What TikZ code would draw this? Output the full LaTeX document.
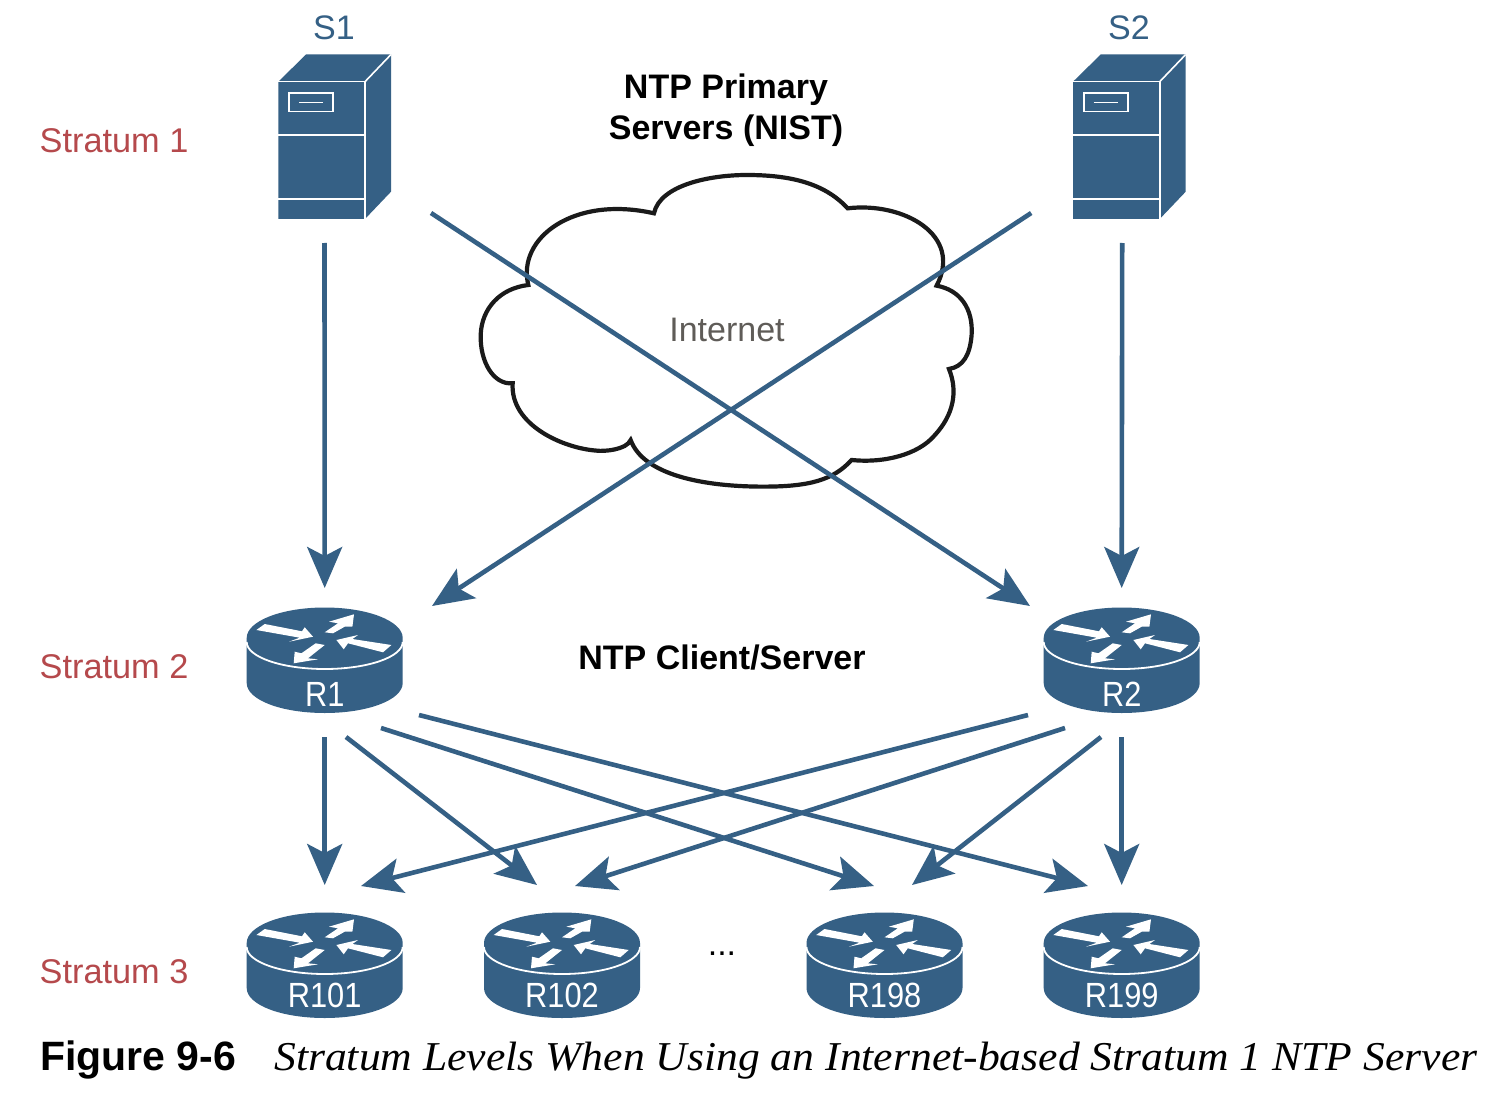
\documentclass[tikz,border=0pt]{standalone}
\usepackage{fontspec}
\setmainfont{Liberation Sans}
\newfontfamily\capserif{Liberation Serif}
\usetikzlibrary{arrows.meta}
\definecolor{devblue}{HTML}{356085}
\definecolor{stratumred}{HTML}{B5494C}
\definecolor{netgray}{HTML}{5F5C58}
\definecolor{cloudline}{HTML}{1A1A1A}
\tikzset{
  x=1pt,y=-1pt,
  link/.style={draw=devblue,line width=4.6pt,-{Stealth[length=41pt,width=35pt,inset=9pt]}},
  stratumlabel/.style={text=stratumred,font=\fontsize{34.3}{40}\selectfont,inner sep=0pt,anchor=west},
  devlabel/.style={text=devblue,font=\fontsize{34}{40}\selectfont,inner sep=0pt},
  headlabel/.style={text=black,font=\bfseries\fontsize{34}{41}\selectfont,inner sep=0pt,align=center},
  routerbox/.style={minimum width=156pt,minimum height=104pt,inner sep=0pt},
  serverbox/.style={minimum width=113pt,minimum height=165pt,inner sep=0pt},
  routerlabel/.style={text=white,font=\fontsize{35}{40}\selectfont,inner sep=0pt},
  routershape/.pic={
    \fill[devblue] (-78,-22) .. controls (-78,-39) and (-43,-52.5) .. (0,-52.5)
      .. controls (43,-52.5) and (78,-39) .. (78,-22) -- (78,23)
      .. controls (78,40) and (43,53) .. (0,53)
      .. controls (-43,53) and (-78,40) .. (-78,23) -- cycle;
    \draw[white,line width=1.8pt] (-78,-18) .. controls (-78,-3) and (-43,9) .. (0,9)
      .. controls (43,9) and (78,-3) .. (78,-18);
    \fill[white] (-68.3,-30) -- (-60,-36) -- (-22.7,-28.7) -- (-20,-32.7) -- (-11.7,-23.3) -- (-35.7,-18.3) -- (-25,-22.3) -- cycle;
    \fill[white] (29.3,-45.7) -- (4.3,-38.3) -- (13.3,-36.7) -- (0,-27.7) -- (8.3,-26.7) -- (20,-33.3) -- (27.7,-33.3) -- cycle;
    \fill[white] (11.7,-20) -- (33.3,-25) -- (27.7,-21) -- (66.7,-15) -- (58.3,-7.7) -- (23.3,-16.7) -- (19,-10.7) -- cycle;
    \fill[white] (-31,3.3) -- (-30,-8.3) -- (-23.3,-6.7) -- (-9,-16.7) -- (0,-15) -- (-16.7,-1.7) -- (-6.7,-0.7) -- cycle;
  },
  servershape/.pic={
    \fill[devblue] (-56.7,-55.3) -- (-29,-82.5) -- (56,-82.5) -- (56,54.7) -- (30,82) -- (-56.7,82) -- cycle;
    \draw[white,line width=1.6pt] (-56.7,-55.3) -- (30,-55.3) -- (30,82);
    \draw[white,line width=1.6pt] (30,-55.3) -- (56,-82.5);
    \draw[white,line width=1.6pt] (-56.7,-2) -- (30,-2);
    \draw[white,line width=1.6pt] (-56.7,62) -- (30,62);
    \draw[white,line width=1.6pt] (-46,-43.7) rectangle (-2,-25.3);
    \draw[white,line width=1.6pt] (-36,-34.3) -- (-11.7,-34.3);
  }
}
\newcommand{\routerdev}[5]{%
  \node[routerbox] (#1) at (#2,#3) {};
  \pic at (#1.center) {routershape};
  \node[routerlabel] (#1-name) at ([yshift=-#5pt]#1.center) {\scalebox{.88}[1]{#4}};
}
\newcommand{\serverdev}[3]{%
  \node[serverbox] (#1) at (#2,#3) {};
  \pic at (#1.center) {servershape};
}
\begin{document}
\begin{tikzpicture}
\path[use as bounding box,fill=white] (0,0) rectangle (1510,1094);

% cloud
\begin{scope}[shift={(470,165)},x=0.3333pt,y=-0.3333pt]
\draw[draw=cloudline,fill=white,line width=4.2pt,line join=miter]
  (552,145) .. controls (570,60) and (720,30) .. (830,30)
  .. controls (950,30) and (1060,50) .. (1133,130)
  .. controls (1300,110) and (1480,210) .. (1400,362)
  .. controls (1470,375) and (1510,430) .. (1505,510)
  .. controls (1500,570) and (1480,605) .. (1437,612)
  .. controls (1465,680) and (1450,750) .. (1395,810)
  .. controls (1345,870) and (1240,895) .. (1145,885)
  .. controls (1090,945) and (1020,965) .. (880,965)
  .. controls (700,965) and (520,930) .. (482,825)
  .. controls (470,855) and (400,860) .. (380,857)
  .. controls (280,850) and (120,780) .. (128,655)
  .. controls (70,660) and (30,590) .. (32,510)
  .. controls (35,430) and (90,370) .. (175,360)
  .. controls (140,220) and (310,90) .. (552,145) -- cycle;
\end{scope}
\node[text=netgray,font=\fontsize{34}{40}\selectfont,inner sep=0pt] (internet) at (727,330) {Internet};

% devices
\serverdev{s1}{335}{137}
\serverdev{s2}{1129.7}{137}
\routerdev{r1}{324.7}{660}{R1}{34}
\routerdev{r2}{1121.7}{660}{R2}{34}
\routerdev{r101}{324.7}{965}{R101}{30}
\routerdev{r102}{562}{965}{R102}{30}
\routerdev{r198}{884.5}{965}{R198}{30}
\routerdev{r199}{1121.7}{965}{R199}{30}

% labels
\node[devlabel] (s1-name) at (334,28) {S1};
\node[devlabel] (s2-name) at (1129,28) {S2};
\node[headlabel] (primary) at (726,110) {NTP Primary\\Servers (NIST)};
\node[headlabel] (clientserver) at (722,658) {NTP Client/Server};
\node[stratumlabel] (st1) at (39.5,140.5) {Stratum 1};
\node[stratumlabel] (st2) at (39.5,666.5) {Stratum 2};
\node[stratumlabel] (st3) at (39.5,971.5) {Stratum 3};
\node[text=black,font=\fontsize{34}{40}\selectfont,inner sep=0pt] (dots) at (722,954) {...};

% connectors
\draw[link] ([shift={(-10.5,106)}]s1.center) -- ([shift={(0,-72)}]r1.center);
\draw[link] ([shift={(96,76)}]s1.center) -- ([shift={(-91.7,-54)}]r2.center);
\draw[link] ([shift={(-7.5,106)}]s2.center) -- ([shift={(0,-72)}]r2.center);
\draw[link] ([shift={(-98.5,76)}]s2.center) -- ([shift={(107.3,-54)}]r1.center);
\draw[link] ([shift={(0,77)}]r1.center) -- ([shift={(0,-80)}]r101.center);
\draw[link] ([shift={(21.3,77)}]r1.center) -- ([shift={(-25,-80)}]r102.center);
\draw[link] ([shift={(56.3,68)}]r1.center) -- ([shift={(-10.5,-79)}]r198.center);
\draw[link] ([shift={(94.3,55)}]r1.center) -- ([shift={(-33.7,-79)}]r199.center);
\draw[link] ([shift={(0,77)}]r2.center) -- ([shift={(0,-80)}]r199.center);
\draw[link] ([shift={(-20.7,77)}]r2.center) -- ([shift={(27.5,-80)}]r198.center);
\draw[link] ([shift={(-56.7,68)}]r2.center) -- ([shift={(13,-79)}]r102.center);
\draw[link] ([shift={(-93.7,55)}]r2.center) -- ([shift={(36.3,-79)}]r101.center);

% caption
\node[text=black,font=\bfseries\fontsize{41}{46}\selectfont,inner sep=0pt,anchor=base west] (figno) at (40,1070) {Figure 9-6};
\node[text=black,font=\capserif\itshape\fontsize{41}{46}\selectfont,inner sep=0pt,anchor=base west] (figcap) at (274,1070) {\scalebox{1.064}[1]{Stratum Levels When Using an Internet-based Stratum 1 NTP Server}};
\end{tikzpicture}
\end{document}
